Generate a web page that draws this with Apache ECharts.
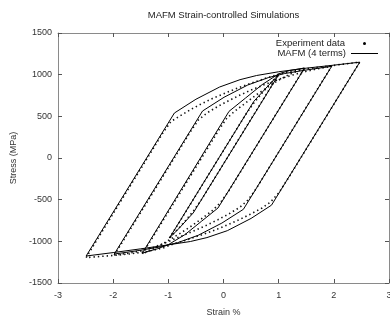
<!DOCTYPE html>
<html>
<head>
<meta charset="utf-8">
<script src="https://cdn.jsdelivr.net/npm/echarts@6/dist/echarts.min.js"></script>
<style>html,body{margin:0;padding:0;background:#fff}#c{width:390px;height:318px}</style>
</head>
<body>
<div id="c"></div>
<script>
const titleText = 'MAFM Strain-controlled Simulations';
const xName = 'Strain %';
const yName = 'Stress (MPa)';
const xRange = [-3, 3, 1];
const yRange = [-1500, 1500, 500];

// MAFM (4 terms) model loops: [strain %, stress MPa]
const model25 = [[-2.49,-1176],[-0.89,540],[-0.5,705],[-0.07,852],[0.3,940],[0.6,990],[1.0,1035],[1.5,1078],[2.0,1114],[2.47,1150],
  [0.87,-566],[0.5,-725],[0.07,-872],[-0.3,-955],[-0.6,-1002],[-1.0,-1042],[-1.5,-1090],[-2.0,-1135],[-2.49,-1176]];
const model20 = [[-1.98,-1152],[-0.38,564],[0.01,729],[0.44,876],[0.81,964],[1.11,1014],[1.51,1057],[1.96,1100],
  [0.36,-616],[-0.03,-781],[-0.46,-928],[-0.83,-1016],[-1.13,-1064],[-1.53,-1110],[-1.98,-1152]];
const model15 = [[-1.47,-1140],[0.1,560],[0.4,720],[0.7,880],[1.0,1010],[1.2,1050],[1.47,1080],
  [-0.1,-600],[-0.4,-760],[-0.7,-920],[-1.0,-1040],[-1.2,-1090],[-1.47,-1140]];
const model10 = [[-0.98,-960],[0.55,680],[0.8,860],[1.0,1000],
  [-0.55,-660],[-0.8,-840],[-0.98,-960]];

// Experiment data
const exp25 = [[-2.49,-1195],[-2.3,-990],[-2.1,-775],[-1.9,-560],[-1.7,-345],[-1.5,-130],[-1.3,85],[-1.1,300],[-0.95,440],[-0.8,500],[-0.6,580],[-0.4,650],[-0.2,715],[0,770],[0.2,825],[0.4,875],[0.6,920],[0.8,965],[1.0,1005],[1.2,1035],[1.5,1070],[1.8,1095],[2.1,1120],[2.47,1150],
  [2.2,860],[2.0,645],[1.8,430],[1.6,215],[1.4,0],[1.2,-215],[1.0,-420],[0.85,-530],[0.7,-600],[0.5,-670],[0.3,-735],[0.1,-795],[-0.1,-850],[-0.3,-900],[-0.5,-945],[-0.7,-990],[-0.9,-1030],[-1.1,-1080],[-1.4,-1125],[-1.7,-1150],[-2.0,-1170],[-2.3,-1185],[-2.49,-1195]];
const exp20 = [[-1.98,-1165],[-1.8,-975],[-1.6,-760],[-1.4,-545],[-1.2,-330],[-1.0,-115],[-0.8,100],[-0.6,315],[-0.45,460],[-0.3,540],[-0.1,620],[0.1,690],[0.3,755],[0.5,815],[0.7,870],[0.9,920],[1.1,965],[1.3,1005],[1.5,1040],[1.7,1070],[1.96,1100],
  [1.8,930],[1.6,715],[1.4,500],[1.2,285],[1.0,70],[0.8,-145],[0.6,-360],[0.45,-500],[0.3,-590],[0.1,-670],[-0.1,-740],[-0.3,-805],[-0.5,-865],[-0.7,-920],[-0.9,-975],[-1.1,-1030],[-1.3,-1080],[-1.5,-1115],[-1.7,-1140],[-1.98,-1165]];
const exp15 = [[-1.47,-1150],[-1.3,-970],[-1.1,-755],[-0.9,-540],[-0.7,-325],[-0.5,-110],[-0.3,105],[-0.1,320],[0.05,470],[0.2,560],[0.4,660],[0.6,760],[0.8,850],[1.0,935],[1.2,1005],[1.47,1080],
  [1.3,900],[1.1,685],[0.9,470],[0.7,255],[0.5,40],[0.3,-175],[0.1,-390],[-0.05,-530],[-0.2,-630],[-0.4,-730],[-0.6,-825],[-0.8,-910],[-1.0,-990],[-1.2,-1070],[-1.47,-1150]];
const exp10 = [[-0.98,-960],[-0.8,-770],[-0.6,-555],[-0.4,-340],[-0.2,-125],[0,90],[0.2,305],[0.4,520],[0.55,660],[0.7,780],[0.85,895],[1.0,1000],
  [0.8,790],[0.6,575],[0.4,360],[0.2,145],[0,-70],[-0.2,-285],[-0.4,-500],[-0.55,-640],[-0.7,-760],[-0.85,-870],[-0.98,-960]];

const FONT = 'Liberation Sans, Arial, Helvetica, sans-serif';
const modelLoops = [model25, model20, model15, model10];
const expLoops = [exp25, exp20, exp15, exp10];

const axisLineStyle = {color: '#8a8a8a', width: 1};
const tickStyle = {color: '#555', width: 1};
const plain = v => String(v);

const series = [];
expLoops.forEach(d => series.push({
  name: 'Experiment data', type: 'line', data: d, showSymbol: false, symbol: 'circle',
  color: '#000', itemStyle: {color: '#000'},
  lineStyle: {color: '#111', width: 1.6, type: [1.4, 3]}, z: 2, silent: true
}));
modelLoops.forEach(d => series.push({
  name: 'MAFM (4 terms)', type: 'line', data: d, showSymbol: false,
  color: '#000', itemStyle: {color: '#000'},
  lineStyle: {color: '#000', width: 1}, z: 3, silent: true
}));

const chart = echarts.init(document.getElementById('c'), null, {renderer: 'canvas'});
chart.setOption({
  animation: false,
  backgroundColor: '#fff',
  textStyle: {fontFamily: FONT},
  title: {text: titleText, left: 223.5, textAlign: 'center', top: 10, padding: 0,
    textStyle: {fontSize: 9.5, fontWeight: 'normal', color: '#222', fontFamily: FONT}},
  legend: [
    {data: ['Experiment data'], orient: 'vertical', align: 'right', right: 24, top: 38.5, padding: 0,
      icon: 'circle', itemWidth: 3, itemHeight: 3,
      textStyle: {fontSize: 9.5, color: '#222', fontFamily: FONT, padding: [0, 13, 0, 0]}},
    {data: ['MAFM (4 terms)'], orient: 'vertical', align: 'right', right: 12, top: 48.5, padding: 0,
      icon: 'rect', itemWidth: 27, itemHeight: 1,
      textStyle: {fontSize: 9.5, color: '#222', fontFamily: FONT}}
  ],
  grid: {left: 58, right: 1, top: 33, bottom: 35, containLabel: false, outerBoundsMode: 'none'},
  xAxis: [
    {type: 'value', min: xRange[0], max: xRange[1], interval: xRange[2], position: 'bottom',
      name: xName, nameLocation: 'middle', nameGap: 25,
      nameTextStyle: {fontSize: 9, color: '#333', fontFamily: FONT},
      axisLine: {show: true, onZero: false, lineStyle: axisLineStyle},
      axisTick: {show: true, inside: true, length: 4, lineStyle: tickStyle},
      axisLabel: {fontSize: 9, color: '#333', margin: 8, fontFamily: FONT, formatter: plain},
      splitLine: {show: false}},
    {type: 'value', min: xRange[0], max: xRange[1], interval: xRange[2], position: 'top',
      axisLine: {show: true, onZero: false, lineStyle: axisLineStyle},
      axisTick: {show: true, inside: true, length: 4, lineStyle: tickStyle},
      axisLabel: {show: false}, splitLine: {show: false}}
  ],
  yAxis: [
    {type: 'value', min: yRange[0], max: yRange[1], interval: yRange[2], position: 'left',
      name: yName, nameLocation: 'middle', nameGap: 40,
      nameTextStyle: {fontSize: 9, color: '#333', fontFamily: FONT},
      axisLine: {show: true, onZero: false, lineStyle: axisLineStyle},
      axisTick: {show: true, inside: true, length: 4, lineStyle: tickStyle},
      axisLabel: {fontSize: 9, color: '#333', margin: 6, fontFamily: FONT, formatter: plain},
      splitLine: {show: false}},
    {type: 'value', min: yRange[0], max: yRange[1], interval: yRange[2], position: 'right',
      axisLine: {show: true, onZero: false, lineStyle: axisLineStyle},
      axisTick: {show: true, inside: true, length: 4, lineStyle: tickStyle},
      axisLabel: {show: false}, splitLine: {show: false}}
  ],
  series: series
});
</script>
</body>
</html>
